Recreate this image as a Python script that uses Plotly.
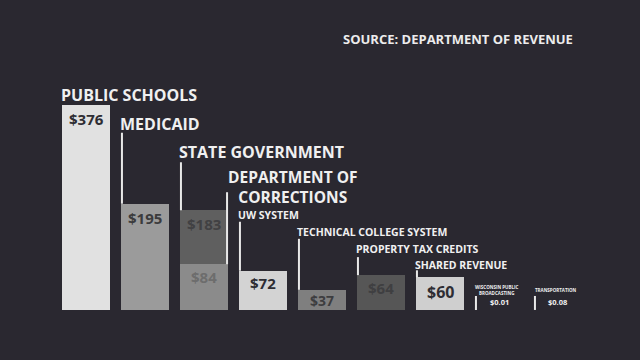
import plotly.graph_objects as go

# ---- data ----
categories = ["PUBLIC SCHOOLS", "MEDICAID", "STATE GOVERNMENT", "DEPARTMENT OF<br>CORRECTIONS",
              "UW SYSTEM", "TECHNICAL COLLEGE SYSTEM", "PROPERTY TAX CREDITS", "SHARED REVENUE",
              "WISCONSIN PUBLIC<br>BROADCASTING", "TRANSPORTATION"]
values = [376, 195, 183, 84, 72, 37, 64, 60, 0.01, 0.08]
value_labels = ["$376", "$195", "$183", "$84", "$72", "$37", "$64", "$60", "$0.01", "$0.08"]
slots = [0, 1, 2, 2, 3, 4, 5, 6, 7, 8]
source_text = "SOURCE: DEPARTMENT OF REVENUE"

# ---- styles ----
BG = "#2a2830"
FONT = "Open Sans"
bar_colors = ["#e1e1e1", "#9b9b9b", "#5f5f5f", "#8b8b8b", "#d3d3d3", "#7f7f7f",
              "#565656", "#cfcfcf", "rgba(0,0,0,0)", "rgba(0,0,0,0)"]
value_colors = ["#2e2d33", "#3b3b3d", "#414143", "#6d6d6d", "#2e2d33", "#3d3d3f",
                "#3f3f41", "#2e2d33", "#f0f0f0", "#f0f0f0"]
value_sizes = [15, 15, 15, 15, 15, 14, 15, 16, 7.5, 7.5]
value_shift = [-14, -14, -14, -13, -12, -11, -13, -15, 8, 8]
label_sizes = [16, 16, 16, 15.5, 10.5, 10.5, 10.5, 10.5, 4.5, 4.5]
line_px = [0, 71, 48, 72, 49, 51, 18, 7, 14, 14]
label_gap = [10, 9, 10, 0, 7, 7, 8, 5, 0, 0]
BAR_W = 0.822
PX_X = 59.0      # px per slot
PX_Y = 0.545     # px per unit
OVERLAY = 3      # index of the bar drawn over its neighbour's slot

fig = go.Figure()
main_idx = [i for i in range(len(values)) if i != OVERLAY]
fig.add_trace(go.Bar(x=[slots[i] for i in main_idx], y=[values[i] for i in main_idx],
                     width=BAR_W,
                     marker=dict(color=[bar_colors[i] for i in main_idx], line=dict(width=0)),
                     hoverinfo="skip"))
fig.add_trace(go.Bar(x=[slots[OVERLAY]], y=[values[OVERLAY]], width=BAR_W,
                     marker=dict(color=[bar_colors[OVERLAY]], line=dict(width=0)),
                     hoverinfo="skip"))

ann = []
shapes = []
for i, (cat, v, s) in enumerate(zip(categories, values, slots)):
    left = s - BAR_W / 2
    right = s + BAR_W / 2
    ann.append(dict(x=s, y=v, xref="x", yref="y", text="<b>%s</b>" % value_labels[i],
                    showarrow=False, yanchor="middle", xanchor="center", yshift=value_shift[i],
                    font=dict(family=FONT, size=value_sizes[i], color=value_colors[i])))
    if line_px[i] > 0:
        lx = right - 1.2 / PX_X if i == OVERLAY else left + 1.2 / PX_X
        shapes.append(dict(type="line", xref="x", yref="y", ysizemode="pixel", yanchor=v,
                           x0=lx, x1=lx, y0=0, y1=line_px[i],
                           line=dict(color="#e8e8e8", width=2)))
    if i == OVERLAY:
        ann.append(dict(x=right, y=v, xref="x", yref="y", text="<b>%s</b>" % cat,
                        showarrow=False, xanchor="center", yanchor="middle",
                        xshift=65, yshift=77, align="center",
                        font=dict(family=FONT, size=label_sizes[i], color="#f0f0f0")))
    elif i >= 8:
        ann.append(dict(x=s, y=v, xref="x", yref="y", text="<b>%s</b>" % cat,
                        showarrow=False, xanchor="center", yanchor="middle",
                        xshift=-2, yshift=20, align="center",
                        font=dict(family=FONT, size=label_sizes[i], color="#f0f0f0")))
    else:
        ann.append(dict(x=left, y=v, xref="x", yref="y", text="<b>%s</b>" % cat,
                        showarrow=False, xanchor="left", yanchor="middle",
                        xshift=-3, yshift=line_px[i] + label_gap[i],
                        font=dict(family=FONT, size=label_sizes[i], color="#f0f0f0")))

ann.append(dict(x=575 / 640, y=1 - 39 / 360, xref="paper", yref="paper",
                text="<b>%s</b>" % source_text, showarrow=False,
                xanchor="right", yanchor="middle",
                font=dict(family=FONT, size=13, color="#ececec")))

fig.update_layout(
    width=640, height=360, margin=dict(l=0, r=0, t=0, b=0),
    paper_bgcolor=BG, plot_bgcolor=BG, showlegend=False,
    barmode="overlay",
    xaxis=dict(range=[-86 / PX_X, (640 - 86) / PX_X], visible=False, fixedrange=True),
    yaxis=dict(range=[-50 / PX_Y, 310 / PX_Y], visible=False, fixedrange=True),
    annotations=ann, shapes=shapes, bargap=0,
)
fig.write_html("out.html", config={"displayModeBar": False},
               post_script="document.body.style.margin='0';document.body.style.background='%s';" % BG)
